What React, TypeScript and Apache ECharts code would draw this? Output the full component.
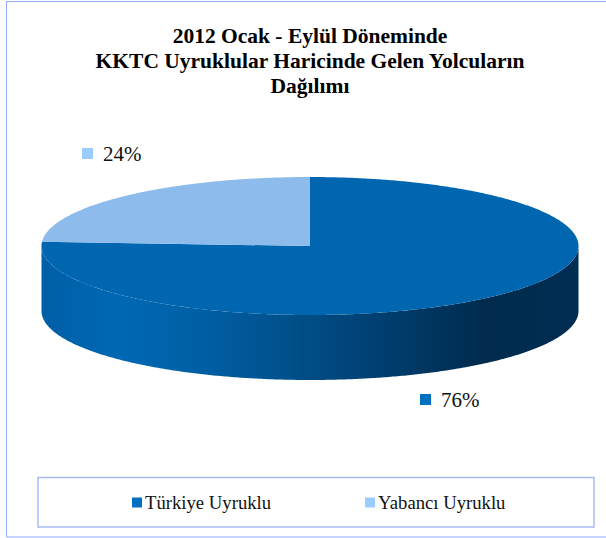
import React, { useEffect, useRef } from "react";
import * as echarts from "echarts";

const categories = ["Türkiye Uyruklu", "Yabancı Uyruklu"];
const values = [76, 24];
const topColors = ["#0066b0", "#8cbbec"];
const markerColors = ["#0070c0", "#99ccff"];
const titleText = "2012 Ocak - Eylül Döneminde\nKKTC Uyruklular Haricinde Gelen Yolcuların\nDağılımı";

const FONT = '"Liberation Serif", "Times New Roman", serif';
const CX = 310;
const CY = 246;
const RX = 268.5;
const RY = 69;
const DEPTH = 65;
const labelMarkers = [
  { x: 420, y: 394 },
  { x: 82, y: 148 },
];

const wallGradient = {
  type: "linear",
  x: 0,
  y: 0,
  x2: 1,
  y2: 0,
  colorStops: [
    { offset: 0, color: "#005fa6" },
    { offset: 0.14, color: "#0068b4" },
    { offset: 0.3, color: "#005fa4" },
    { offset: 0.5, color: "#004c84" },
    { offset: 0.68, color: "#003a68" },
    { offset: 0.82, color: "#002b4e" },
    { offset: 1, color: "#002d52" },
  ],
};

const total = values.reduce((a, b) => a + b, 0);

function pt(deg: number, dy = 0): [number, number] {
  const r = (deg * Math.PI) / 180;
  return [CX + RX * Math.sin(r), CY - RY * Math.cos(r) + dy];
}

function arc(from: number, to: number, dy = 0): [number, number][] {
  const n = Math.max(2, Math.ceil(Math.abs(to - from) * 2));
  const out: [number, number][] = [];
  for (let i = 0; i <= n; i++) out.push(pt(from + ((to - from) * i) / n, dy));
  return out;
}

function toPath(points: [number, number][]): string {
  return points.map((p, i) => `${i ? "L" : "M"}${p[0].toFixed(2)} ${p[1].toFixed(2)}`).join(" ") + " Z";
}

function renderSlice(seriesIndex: number) {
  return (_params: any, api: any) => {
    const value = api.value(0);
    const before = values.slice(0, seriesIndex).reduce((a, b) => a + b, 0);
    const start = (before / total) * 360;
    const end = ((before + value) / total) * 360;
    const children: any[] = [];
    const wallFrom = Math.max(start, 90);
    const wallTo = Math.min(end, 270);
    if (wallTo > wallFrom) {
      const wall = [...arc(wallFrom, wallTo), ...arc(wallTo, wallFrom, DEPTH)];
      children.push({
        type: "path",
        shape: { pathData: toPath(wall) },
        style: { fill: wallGradient },
      });
    }
    children.push({
      type: "path",
      shape: { pathData: toPath([[CX, CY], ...arc(start, end)]) },
      style: { fill: topColors[seriesIndex] },
    });
    const m = labelMarkers[seriesIndex];
    children.push({
      type: "rect",
      shape: { x: m.x, y: m.y, width: 11, height: 11 },
      style: { fill: markerColors[seriesIndex] },
    });
    children.push({
      type: "text",
      x: m.x + 21,
      y: m.y + 6,
      style: {
        text: `${value}%`,
        font: `21px ${FONT}`,
        fill: "#111111",
        align: "left",
        verticalAlign: "middle",
      },
    });
    return { type: "group", children };
  };
}

export default function App() {
  const ref = useRef<HTMLDivElement>(null);
  useEffect(() => {
    document.body.style.margin = "0";
    const chart = echarts.init(ref.current!, null, { renderer: "svg" });
    chart.setOption({
      animation: false,
      backgroundColor: "#ffffff",
      title: {
        text: titleText,
        left: 305,
        top: 18,
        textAlign: "center",
        textStyle: {
          fontFamily: FONT,
          fontSize: 21.5,
          fontWeight: "bold",
          color: "#000000",
          lineHeight: 25,
        },
      },
      legend: {
        data: categories,
        left: 127,
        top: 488,
        icon: "rect",
        itemWidth: 10,
        itemHeight: 10,
        itemGap: 94,
        textStyle: { fontFamily: FONT, fontSize: 18.7, color: "#111111", padding: [0, 0, 0, -2] },
      },
      graphic: [
        {
          type: "rect",
          silent: true,
          z: -1,
          shape: { x: 6.5, y: 1.5, width: 720, height: 535.5 },
          style: { fill: "none", stroke: "#8faaff", lineWidth: 1 },
        },
        {
          type: "rect",
          silent: true,
          z: -1,
          shape: { x: 38, y: 477.5, width: 556, height: 49.5 },
          style: { fill: "none", stroke: "#a9bdf5", lineWidth: 1.5 },
        },
      ],
      series: categories.map((name, i) => ({
        type: "custom",
        name,
        coordinateSystem: "none",
        renderItem: renderSlice(i),
        itemStyle: { color: markerColors[i] },
        data: [values[i]],
        silent: true,
      })),
    });
    return () => chart.dispose();
  }, []);
  return <div ref={ref} style={{ position: "absolute", left: 0, top: 0, width: 606, height: 538 }} />;
}
